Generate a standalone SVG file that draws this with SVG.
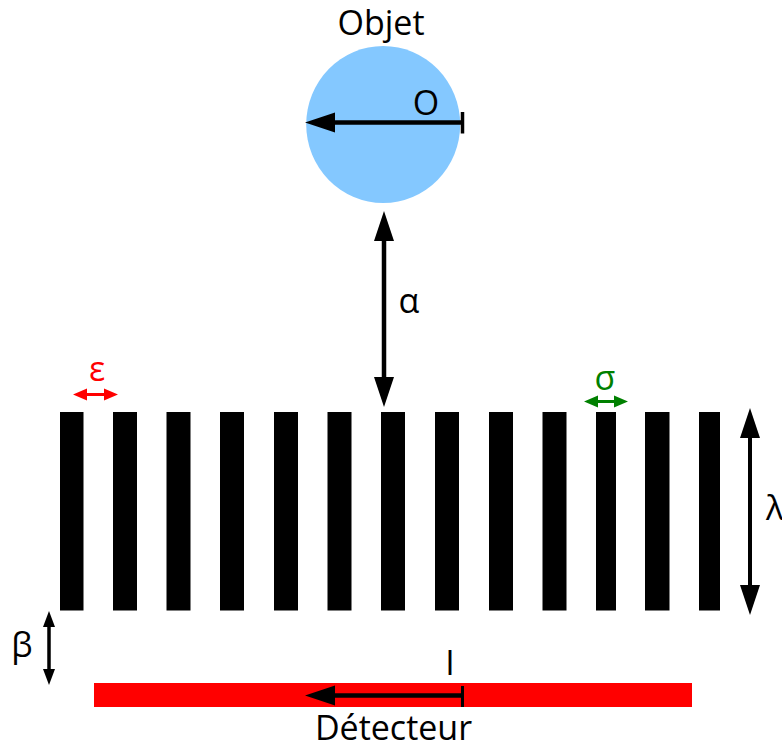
<svg xmlns="http://www.w3.org/2000/svg" width="782" height="744" viewBox="0 0 782 744">
<style>
text{font-family:"Open Sans","Noto Sans","DejaVu Sans",sans-serif;font-size:34px;fill:#000;text-anchor:middle}
.bar{fill:#000}
.l{stroke:#000;stroke-width:4.500;fill:none}
.h{fill:#000}
</style>
<rect width="782" height="744" fill="#fff"/>
<g id="objet">
<ellipse cx="383.2" cy="124.5" rx="77" ry="78.5" fill="#84c8ff"/>
<text x="381" y="35">Objet</text>
<text x="426" y="115">O</text>
</g>
<g id="grille">
<rect class="bar" x="60" y="412" width="23.500" height="198.500"/>
<rect class="bar" x="113" y="412" width="24" height="198.500"/>
<rect class="bar" x="166.500" y="412" width="24" height="198.500"/>
<rect class="bar" x="220" y="412" width="24" height="198.500"/>
<rect class="bar" x="274" y="412" width="24" height="198.500"/>
<rect class="bar" x="327.500" y="412" width="24" height="198.500"/>
<rect class="bar" x="381" y="412" width="24" height="198.500"/>
<rect class="bar" x="435" y="412" width="24" height="198.500"/>
<rect class="bar" x="489" y="412" width="24" height="198.500"/>
<rect class="bar" x="542.500" y="412" width="24" height="198.500"/>
<rect class="bar" x="596" y="412" width="20" height="198.500"/>
<rect class="bar" x="645" y="412" width="24.500" height="198.500"/>
<rect class="bar" x="699" y="412" width="21" height="198.500"/>
</g>
<g id="detecteur">
<rect x="94" y="683" width="598" height="24" fill="#f00"/>
<text x="393.500" y="740">Détecteur</text>
</g>
<g id="connecteurs">
<path class="l" d="M334 122.500H463"/>
<path d="M462.500 112V133.500" stroke="#000" stroke-width="3.500"/>
<path class="h" d="M305 122.500L335 112.500V132.500Z"/>
<path class="l" d="M384 240V378"/>
<path class="h" d="M384 211L394 241H374ZM384 407L394 377H374Z"/>
<path class="l" d="M750 437V586" style="stroke-width:4"/>
<path class="h" d="M750 408L760 438H740ZM750 615L760 585H740Z"/>
<path d="M49 620V676" stroke="#000" stroke-width="3.500" fill="none"/>
<path class="h" d="M49 611L55 627H43ZM49 685L55 669H43Z"/>
<path d="M85 394.500H106" stroke="#f00" stroke-width="3"/>
<path fill="#f00" d="M73 394.500L87 388.500V400.500ZM118 394.500L104 388.500V400.500Z"/>
<path d="M596 401.500H617" stroke="#008000" stroke-width="3"/>
<path fill="#008000" d="M584 401.500L598 395.500V407.500ZM628 401.500L614 395.500V407.500Z"/>
<path class="l" d="M334 695.500H463"/>
<path d="M462.500 686V707" stroke="#000" stroke-width="3"/>
<path class="h" d="M305 695.500L335 685.500V705.500Z"/>
</g>
<g id="etiquettes">
<text x="409" y="313">α</text>
<text x="97" y="381" style="fill:#f00">ε</text>
<text x="605" y="390" style="fill:#008000">σ</text>
<text x="775" y="520">λ</text>
<text x="22" y="657">β</text>
<text x="450" y="675">I</text>
</g>
</svg>
